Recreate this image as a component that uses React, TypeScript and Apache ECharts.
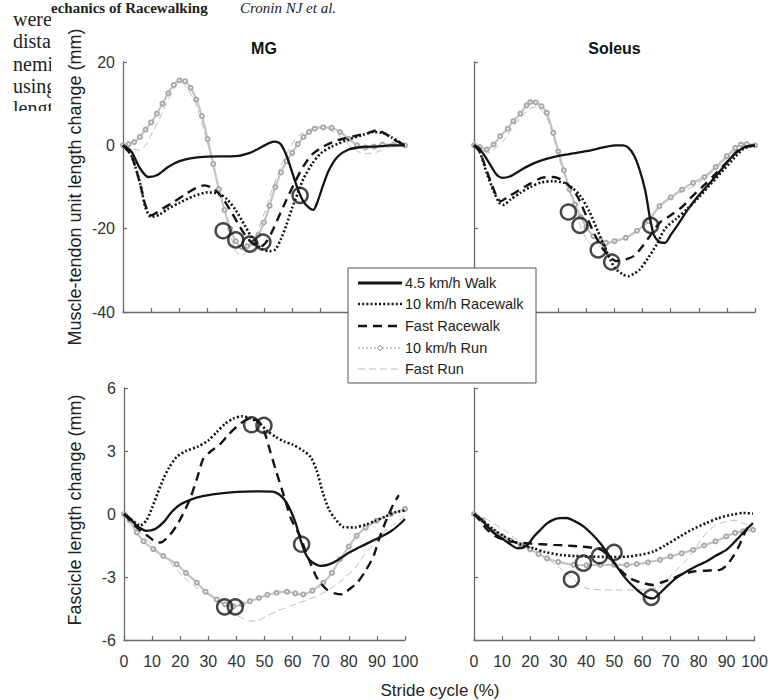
import React, { useEffect, useRef } from "react";
import * as echarts from "echarts";

// ---------- labels ----------
const seriesNames = ["4.5 km/h Walk", "10 km/h Racewalk", "Fast Racewalk", "10 km/h Run", "Fast Run"];
const panelTitles = ["MG", "Soleus"];
const yNameTop = "Muscle-tendon unit length change (mm)";
const yNameBottom = "Fascicle length change (mm)";
const xName = "Stride cycle (%)";
const strideTicks = [0, 10, 20, 30, 40, 50, 60, 70, 80, 90, 100];
const mtuTicks = [-40, -20, 0, 20];
const fascTicks = [-6, -3, 0, 3, 6];
const pageLines = ["were", "dista", "nemi", "using", "lengt"];
const headerText = "echanics of Racewalking";
const headerAuthors = "Cronin NJ et al.";

// ---------- MG muscle-tendon unit ----------
const mgMtuWalk = [[0,0],[3,-1.5],[6,-5.5],[9,-7.6],[12,-7.2],[16,-5.2],[20,-3.8],[25,-3],[30,-2.7],[40,-2.6],[45,-1.8],[48,-0.8],[52,0.6],[54,0.9],[56,0.2],[58,-2.5],[60,-6.5],[62,-10.5],[64,-13.5],[66,-15],[67.5,-15.5],[69,-13.5],[71,-9.5],[73,-6],[76,-2.8],[80,-1],[85,-0.4],[90,-0.3],[95,0],[100,0]];
const mgMtuRacewalk = [[0,0],[3,-2.5],[6,-9],[8,-15],[10,-17.2],[13,-16.6],[16,-15.2],[20,-13.8],[25,-12.2],[30,-11.3],[34,-11.6],[37,-13],[40,-15.6],[43,-19],[46,-22.5],[49,-24.8],[52,-25.4],[54,-25],[56,-22.5],[58,-19],[60,-15],[62,-11.5],[64,-8],[67,-4.5],[70,-2],[74,-0.3],[80,1.4],[85,2.5],[89,3.2],[92,3],[95,2],[100,0]];
const mgMtuFastRacewalk = [[0,0],[3,-2.5],[6,-9],[8,-14.5],[10,-16.8],[14,-15.2],[18,-13.6],[22,-11.8],[26,-10.2],[29,-9.6],[32,-10.4],[35,-12.4],[38,-15.5],[41,-19],[44,-22.2],[47,-24],[49,-24.2],[51,-23],[53,-20.5],[55,-17.5],[58,-13],[61,-8.8],[64,-5],[67,-2.2],[71,-0.3],[76,1.2],[82,2.2],[87,3],[90,3.6],[93,2.8],[96,1.4],[100,0]];
const mgMtuRun = [[0,0],[2,0.3],[4,0.8],[6,2],[8,3.8],[10,5.5],[12,7.6],[14,10],[16,12.5],[18,14.5],[20,15.6],[22,15.4],[24,13.8],[26,11],[28,7],[30,1.5],[32,-4.5],[34,-10.5],[36,-15.5],[38,-20],[40,-23],[42,-24.4],[44,-24.2],[46,-23.4],[48,-21.5],[50,-18.5],[52,-14.5],[54,-10],[56,-6.5],[58,-3.8],[60,-1.8],[62,0.3],[64,2],[66,3.2],[68,4],[71,4.3],[74,4.2],[77,3.2],[80,1.6],[83,0],[86,-0.5],[89,-0.3],[92,0.2],[96,0.2],[100,0]];
const mgMtuFastRun = [[0,0],[3,-0.8],[6,-1.2],[8,0],[10,2.5],[13,6.5],[16,11],[19,14.5],[21,15],[23,13.5],[26,9.5],[29,3],[32,-5],[35,-13],[38,-21],[40,-25.5],[42,-26.4],[44,-25.5],[47,-22],[50,-16.5],[53,-10.5],[56,-5],[59,-0.8],[62,2.2],[66,3.8],[70,4.2],[74,3.5],[78,1.5],[82,-1],[86,-2],[90,-1.6],[94,-0.5],[100,0]];
const mgMtuEvents = [[35.5,-20.5],[40,-22.7],[45,-23.7],[49.6,-23.2],[62.8,-12]];

// ---------- Soleus muscle-tendon unit ----------
const solMtuWalk = [[0,0],[2,-0.8],[5,-3.8],[8,-7],[10,-7.8],[13,-7.4],[17,-5.8],[21,-4.4],[26,-3.2],[32,-2.3],[40,-1.4],[46,-0.5],[50,0],[53,0],[55,-0.6],[57,-2.5],[59,-6],[61,-11],[62.5,-17],[64,-21.5],[66,-23.2],[68,-23.4],[70,-21.5],[73,-18.6],[76,-15.5],[80,-12],[84,-9],[88,-5.8],[92,-2.6],[96,-0.5],[100,0]];
const solMtuRacewalk = [[0,0],[2,-1.5],[4.5,-6.6],[7,-11],[9,-13.8],[10.5,-14.3],[13,-13],[16.5,-11.4],[20,-10],[24,-8.9],[28,-8.6],[32,-9],[35,-10.2],[38,-12.3],[41,-15.8],[44,-20.5],[47,-25.2],[50,-29.3],[53,-31],[55,-31.4],[57,-30.8],[59,-29.8],[62,-27],[65,-23.8],[68,-20],[72,-17.6],[76,-15.2],[80,-12.5],[84,-9.5],[88,-6.5],[92,-3.5],[96,-0.8],[100,0]];
const solMtuFastRacewalk = [[0,0],[2,-1.5],[5,-7],[8,-12.2],[9.5,-13.4],[12,-12.4],[16,-10.8],[20,-9.2],[24,-7.8],[28,-7.6],[31,-8.2],[34,-9.8],[37,-12.5],[40,-17],[43,-21.5],[46,-25],[49,-27.2],[51,-27.8],[54,-27.4],[57,-26.5],[60,-24.2],[63,-21.4],[66,-18.6],[70,-16.8],[74,-14.8],[78,-12],[82,-9.5],[86,-6.8],[90,-4],[94,-1.2],[97,-0.3],[100,0]];
const solMtuRun = [[0,0],[2,-0.4],[4.5,-1],[7,0.2],[9.3,2.2],[12,4],[14,5.8],[16.5,7.6],[18.7,9.6],[20,10.4],[22,10.3],[24,9.4],[25.9,7.8],[28.2,3],[30,-1.5],[32,-6],[34,-10.6],[36,-14.2],[38,-17.2],[40,-19.6],[42.5,-21.8],[45,-22.8],[47,-23.4],[50,-23],[54,-22.2],[58,-20.5],[62,-18.2],[66,-14.6],[70,-12.5],[74,-10.6],[78,-9],[82,-7.6],[86,-5.2],[90,-2.6],[93,-0.6],[95,0.2],[97,0.3],[100,0]];
const solMtuFastRun = [[0,0],[2,-0.6],[5,-1.8],[8,-0.5],[11,1.5],[14,4.5],[17,7],[20,8.8],[22,9.2],[24,8.5],[26,6.5],[28,2.5],[30,-2.5],[33,-9],[36,-15.5],[38,-19.5],[40,-22.5],[42,-24],[45,-24.2],[48,-23.5],[52,-22.8],[56,-21.5],[60,-19.5],[64,-16.5],[68,-13.5],[72,-11.8],[76,-10.6],[80,-9],[84,-6.8],[88,-4.4],[92,-1.8],[96,-0.2],[100,0]];
const solMtuEvents = [[33.6,-16],[37.7,-19.2],[44.2,-25.1],[49,-28],[62.9,-19.2]];

// ---------- MG fascicle ----------
const mgFasWalk = [[0,0],[2,-0.2],[4.5,-0.56],[8,-0.8],[11,-0.72],[14,-0.4],[17,0.1],[20,0.45],[24,0.7],[28,0.85],[33,0.96],[38,1.03],[43,1.07],[48,1.08],[53,1.07],[55,0.95],[57,0.7],[59,0.25],[61,-0.4],[63,-1.3],[65,-2],[67,-2.3],[70,-2.47],[73,-2.4],[76,-2.2],[80,-1.85],[85,-1.5],[90,-1.18],[95,-0.82],[98,-0.5],[100,-0.24]];
const mgFasRacewalk = [[0,0],[3,-0.3],[5.7,-0.56],[8,-0.3],[10,0.3],[12,1],[14,1.67],[16,2.2],[18.7,2.71],[22,3],[26,3.19],[30,3.5],[33,3.9],[36,4.3],[39,4.55],[42,4.65],[45,4.55],[48,4.35],[51,3.95],[54,3.67],[57,3.45],[60,3.3],[64,3],[66.5,2.7],[68.5,2.1],[70.8,1],[73,0.2],[75,-0.2],[78,-0.62],[82,-0.64],[86,-0.5],[89,-0.35],[93,-0.12],[97,0.1],[100,0.16]];
const mgFasFastRacewalk = [[0,0],[4.5,-0.64],[8,-1],[11,-1.3],[13,-1.36],[16,-1.05],[18.7,-0.56],[21,0],[23.5,0.72],[26,1.7],[28.2,2.63],[31,3],[34,3.3],[37,3.75],[40,4.15],[43,4.45],[45,4.55],[48,4.4],[50,3.9],[52,3],[54,2.1],[56.5,1.04],[59.5,-0.24],[62.6,-1.04],[65,-1.9],[68.3,-2.95],[70,-3.3],[72.1,-3.59],[75,-3.78],[77.9,-3.83],[80,-3.6],[83,-3.27],[86,-2.7],[88.8,-2],[91,-1.1],[93.5,-0.24],[96,0.5],[97.8,0.9]];
const mgFasRun = [[0,0],[2,-0.3],[4.5,-0.88],[7,-1.3],[10.4,-1.67],[14,-2],[18.7,-2.39],[22,-2.8],[25.9,-3.27],[29,-3.7],[33,-4.07],[36,-4.3],[38.9,-4.4],[42,-4.3],[44.8,-4.15],[48,-4],[51,-3.85],[54.3,-3.75],[58,-3.7],[61,-3.78],[63.8,-3.83],[67,-3.65],[70.9,-3.27],[74,-2.8],[76.9,-2.15],[80,-1.55],[82.8,-1.04],[86,-0.65],[89.9,-0.32],[95,0],[100,0.24]];
const mgFasFastRun = [[0,0],[3,-0.4],[6.9,-1.04],[11,-1.6],[15.2,-2.15],[19,-2.7],[23.5,-3.27],[28,-3.7],[33,-4.07],[36,-4.4],[38.9,-4.7],[42,-4.95],[44.8,-5.1],[48,-5.05],[50.8,-4.86],[55,-4.6],[59,-4.39],[64,-4.15],[68.6,-3.91],[73,-3.6],[78,-3.1],[82,-2.6],[85.2,-2],[89,-1.4],[92.3,-0.88],[96,-0.5],[100,-0.1]];
const mgFasEvents = [[45.4,4.25],[49.8,4.22],[63.2,-1.44],[35.8,-4.42],[39.6,-4.42]];

// ---------- Soleus fascicle ----------
const solFasWalk = [[0,0],[2.5,-0.25],[4.7,-0.59],[7.5,-0.95],[10.7,-1.23],[13,-1.45],[15.4,-1.63],[17.5,-1.6],[19.5,-1.4],[21.5,-1.05],[23.7,-0.75],[26,-0.45],[28.4,-0.27],[30.5,-0.2],[33.1,-0.19],[36,-0.35],[39,-0.59],[42,-0.95],[45,-1.39],[48,-1.95],[50.9,-2.5],[53,-2.9],[55.6,-3.3],[58,-3.6],[60.4,-3.86],[62,-3.98],[63.9,-4.02],[66,-3.8],[68.6,-3.46],[72,-3.05],[75.7,-2.74],[79,-2.5],[82.8,-2.26],[86,-2],[89.9,-1.71],[92,-1.45],[94.7,-1.07],[97,-0.75],[99.4,-0.43]];
const solFasRacewalk = [[0,0],[3,-0.3],[7.1,-0.75],[10.5,-1.05],[14.2,-1.31],[17.5,-1.5],[21.3,-1.63],[25,-1.8],[30.8,-1.95],[36,-2],[42.6,-2.03],[48,-2.05],[54.4,-2.03],[59,-1.95],[63.9,-1.79],[68,-1.5],[73.4,-1.07],[78,-0.72],[82.8,-0.43],[87,-0.2],[92.3,-0.02],[96,0.05],[99.4,0.02]];
const solFasFastRacewalk = [[0,0],[2,-0.3],[4.7,-0.75],[7.5,-1.05],[10.7,-1.23],[14,-1.33],[18.9,-1.39],[23,-1.43],[28.4,-1.47],[33,-1.5],[37.9,-1.55],[42,-1.6],[45.4,-1.71],[48,-2],[50,-2.35],[52.1,-2.66],[54.5,-2.95],[56.8,-3.14],[60,-3.28],[63.9,-3.38],[67,-3.25],[71,-3.06],[74,-2.88],[78.1,-2.74],[82,-2.7],[85,-2.68],[87.6,-2.66],[90,-2.45],[92.3,-2.03],[94.5,-1.5],[97,-0.75],[99,-0.4]];
const solFasRun = [[0,0],[3,-0.3],[7.1,-0.83],[10,-1.05],[13,-1.27],[16.6,-1.47],[20,-1.68],[23,-1.9],[26,-2.11],[30,-2.28],[35.5,-2.42],[40,-2.44],[45,-2.42],[50,-2.42],[54.4,-2.42],[58,-2.38],[62,-2.3],[66.3,-2.18],[70,-2.02],[74,-1.87],[78.1,-1.71],[82,-1.5],[86,-1.3],[89.9,-1.07],[93,-0.9],[96,-0.82],[99.4,-0.75]];
const solFasFastRun = [[0,0],[4,-0.2],[7,-0.45],[10.7,-0.75],[14,-1.1],[18.9,-1.55],[23,-1.9],[28.4,-2.34],[31,-2.6],[34.3,-2.98],[37,-3.3],[40.2,-3.54],[44,-3.6],[48.5,-3.62],[53,-3.62],[58,-3.62],[62,-3.58],[66.3,-3.46],[69,-3.1],[72,-2.7],[75.7,-2.18],[79,-1.6],[82.8,-0.91],[86,-0.55],[89.9,-0.35],[93,-0.3],[96,-0.45],[99.4,-0.59]];
const solFasEvents = [[34.7,-3.11],[39,-2.34],[44.7,-1.99],[49.9,-1.83],[63.2,-3.97]];

const panels = [
  [mgMtuWalk, mgMtuRacewalk, mgMtuFastRacewalk, mgMtuRun, mgMtuFastRun, mgMtuEvents],
  [solMtuWalk, solMtuRacewalk, solMtuFastRacewalk, solMtuRun, solMtuFastRun, solMtuEvents],
  [mgFasWalk, mgFasRacewalk, mgFasFastRacewalk, mgFasRun, mgFasFastRun, mgFasEvents],
  [solFasWalk, solFasRacewalk, solFasFastRacewalk, solFasRun, solFasFastRun, solFasEvents],
];

const FONT = "'Liberation Sans', Arial, Helvetica, sans-serif";
const SERIF = "'Liberation Serif', 'Times New Roman', serif";
const AXIS_COLOR = "#6a6a6a";
const LABEL_COLOR = "#333";
const INK = "#141414";

const lineStyles: any[] = [
  { color: INK, width: 2.3, type: "solid" },
  { color: INK, width: 2.6, type: [2, 2.2] },
  { color: INK, width: 2.4, type: [9, 6] },
  { color: "#c4c4c4", width: 2.2, type: "solid" },
  { color: "#bdbdbd", width: 1, type: [7, 4] },
];

function buildOption() {
  const grids = [
    { left: 123, top: 62, width: 282, height: 250 },
    { left: 474, top: 62, width: 281, height: 250 },
    { left: 124, top: 388, width: 281, height: 252 },
    { left: 474, top: 388, width: 281, height: 252 },
  ];
  const xAxes = grids.map((_, i) => ({
    type: "value",
    gridIndex: i,
    min: strideTicks[0],
    max: strideTicks[strideTicks.length - 1],
    interval: strideTicks[1] - strideTicks[0],
    axisLine: { show: true, onZero: false, lineStyle: { color: AXIS_COLOR, width: 1.3 } },
    axisTick: { show: true, inside: true, length: 4, lineStyle: { color: AXIS_COLOR, width: 1.2 } },
    axisLabel: { show: i >= 2, margin: 13, color: LABEL_COLOR, fontSize: 16, fontFamily: FONT },
    splitLine: { show: false },
  }));
  const yAxes = grids.map((_, i) => {
    const ticks = i < 2 ? mtuTicks : fascTicks;
    return {
      type: "value",
      gridIndex: i,
      min: ticks[0],
      max: ticks[ticks.length - 1],
      interval: ticks[1] - ticks[0],
      axisLine: { show: true, onZero: false, lineStyle: { color: AXIS_COLOR, width: 1.3 } },
      axisTick: { show: true, inside: true, length: 4, lineStyle: { color: AXIS_COLOR, width: 1.2 } },
      axisLabel: { show: i % 2 === 0, margin: 8, color: LABEL_COLOR, fontSize: 16, fontFamily: FONT },
      splitLine: { show: false },
    };
  });

  const series: any[] = [];
  const drawOrder = [4, 3, 0, 1, 2];
  panels.forEach((p, pi) => {
    drawOrder.forEach((si) => {
      const isRun = si === 3;
      series.push({
        type: "line",
        name: seriesNames[si],
        xAxisIndex: pi,
        yAxisIndex: pi,
        data: p[si],
        smooth: 0.25,
        showSymbol: isRun,
        symbol: isRun ? "emptyCircle" : "none",
        symbolSize: 4,
        itemStyle: { color: "#a9a9a9", borderWidth: 1 },
        lineStyle: lineStyles[si],
        z: si >= 3 ? 2 : 3,
        silent: true,
      });
    });
    series.push({
      type: "scatter",
      name: "events",
      xAxisIndex: pi,
      yAxisIndex: pi,
      data: p[5],
      symbol: "circle",
      symbolSize: 15,
      itemStyle: { color: "rgba(0,0,0,0)", borderColor: "#1a1a1a", borderWidth: 2.5 },
      z: 5,
      silent: true,
    });
  });

  // legend drawn as graphic
  const lx0 = 348, ly0 = 268, lw = 188, lh = 115;
  const rowY = [283, 304, 326, 348, 369];
  const legendEls: any[] = [
    { type: "rect", shape: { x: lx0, y: ly0, width: lw, height: lh }, style: { fill: "#fff", stroke: "#555", lineWidth: 1 }, z: 100 },
  ];
  seriesNames.forEach((name, i) => {
    const ls = lineStyles[i];
    legendEls.push({
      type: "line",
      shape: { x1: 358, y1: rowY[i], x2: 402, y2: rowY[i] },
      style: {
        stroke: i === 3 ? "#bdbdbd" : ls.color,
        lineWidth: i === 3 ? 1.5 : i === 0 ? 3 : ls.width,
        lineDash: i === 3 ? [2, 2] : Array.isArray(ls.type) ? ls.type : null,
      },
      z: 101,
    });
    if (i === 3) {
      legendEls.push({ type: "circle", shape: { cx: 380, cy: rowY[i], r: 2.2 }, style: { fill: "#fff", stroke: "#999", lineWidth: 1 }, z: 102 });
    }
    legendEls.push({
      type: "text",
      x: 405,
      y: rowY[i],
      style: { text: name, fill: "#222", fontSize: 14.5, fontFamily: FONT, align: "left", verticalAlign: "middle" },
      z: 101,
    });
  });

  const pageEls: any[] = [
    { type: "text", x: 51, y: 0, style: { text: headerText, fill: "#222", fontSize: 15, fontWeight: "bold", fontFamily: SERIF, align: "left", verticalAlign: "top" }, z: 1 },
    { type: "text", x: 240, y: 0, style: { text: headerAuthors, fill: "#222", fontSize: 15, fontStyle: "italic", fontFamily: SERIF, align: "left", verticalAlign: "top" }, z: 1 },
    ...pageLines.map((t, i) => ({
      type: "text",
      x: 13,
      y: 29 + i * 22.3,
      style: { text: t, fill: "#222", fontSize: 20, fontFamily: SERIF, align: "left", verticalAlign: "bottom" },
      z: 1,
    })),
    { type: "rect", shape: { x: 51, y: 17, width: 12, height: 100 }, style: { fill: "#fff" }, z: 2 },
    { type: "rect", shape: { x: 0, y: 111, width: 63, height: 20 }, style: { fill: "#fff" }, z: 2 },
  ];

  const textEls: any[] = [
    { type: "text", x: 264, y: 48, style: { text: panelTitles[0], fill: "#111", fontSize: 16, fontWeight: "bold", fontFamily: FONT, align: "center", verticalAlign: "middle" }, z: 10 },
    { type: "text", x: 614.5, y: 48, style: { text: panelTitles[1], fill: "#111", fontSize: 16, fontWeight: "bold", fontFamily: FONT, align: "center", verticalAlign: "middle" }, z: 10 },
    { type: "text", x: 75, y: 187, rotation: Math.PI / 2, style: { text: yNameTop, fill: "#222", fontSize: 18, fontFamily: FONT, align: "center", verticalAlign: "middle" }, z: 10 },
    { type: "text", x: 75, y: 510, rotation: Math.PI / 2, style: { text: yNameBottom, fill: "#222", fontSize: 18, fontFamily: FONT, align: "center", verticalAlign: "middle" }, z: 10 },
    { type: "text", x: 440, y: 690, style: { text: xName, fill: "#222", fontSize: 17, fontFamily: FONT, align: "center", verticalAlign: "middle" }, z: 10 },
  ];

  return {
    animation: false,
    backgroundColor: "#fff",
    grid: grids,
    xAxis: xAxes,
    yAxis: yAxes,
    series,
    graphic: { elements: [...pageEls, ...textEls, ...legendEls] },
  };
}

export default function App() {
  const ref = useRef<HTMLDivElement>(null);
  useEffect(() => {
    if (!ref.current) return;
    const chart = echarts.init(ref.current, null, { renderer: "svg" });
    chart.setOption(buildOption() as any);
    return () => chart.dispose();
  }, []);
  return (
    <div
      ref={ref}
      style={{ position: "absolute", left: 0, top: 0, width: 771, height: 700, background: "#fff" }}
    />
  );
}
